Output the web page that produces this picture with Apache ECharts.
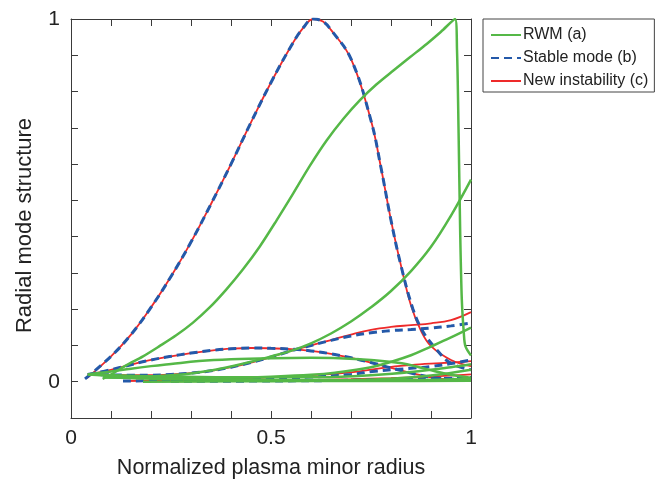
<!DOCTYPE html>
<html>
<head>
<meta charset="utf-8">
<script src="https://cdn.jsdelivr.net/npm/echarts@6/dist/echarts.min.js"></script>
<style>html,body{margin:0;padding:0;background:#fff}#c{width:657px;height:480px}</style>
</head>
<body>
<div id="c"></div>
<script>
// ---- Tick labels ----
const xLabelTicks = [0, 0.5, 1];
const yLabelTicks = [0, 1];

// ---- RWM (a) curves, green ----
const rwmPeak = [[0.079,0.008],[0.1,0.02],[0.138,0.045],[0.18,0.07],[0.221,0.098],[0.263,0.128],[0.305,0.163],[0.346,0.204],[0.388,0.254],[0.43,0.31],[0.472,0.373],[0.514,0.445],[0.556,0.52],[0.597,0.595],[0.639,0.665],[0.681,0.725],[0.723,0.777],[0.764,0.82],[0.806,0.858],[0.848,0.895],[0.89,0.932],[0.925,0.965],[0.96,1.0],[0.965,0.915],[0.969,0.685],[0.973,0.41],[0.977,0.227],[0.982,0.135],[0.986,0.098],[1.0,0.072]];
const rwmRiseHigh = [[0.08,0.012],[0.15,0.013],[0.2,0.015],[0.25,0.018],[0.3,0.023],[0.35,0.031],[0.4,0.042],[0.45,0.055],[0.5,0.07],[0.55,0.085],[0.6,0.106],[0.65,0.133],[0.7,0.166],[0.75,0.205],[0.8,0.25],[0.85,0.305],[0.9,0.372],[0.95,0.458],[1.0,0.557]];
const rwmRiseMid = [[0.08,0.012],[0.2,0.01],[0.3,0.01],[0.4,0.011],[0.5,0.014],[0.6,0.019],[0.66,0.025],[0.75,0.04],[0.8,0.055],[0.85,0.073],[0.9,0.097],[0.95,0.122],[1.0,0.149]];
const rwmHump = [[0.042,0.02],[0.1,0.028],[0.15,0.036],[0.2,0.043],[0.25,0.049],[0.32,0.057],[0.4,0.062],[0.5,0.065],[0.6,0.066],[0.67,0.065],[0.75,0.06],[0.827,0.051],[0.87,0.04],[0.91,0.029],[0.95,0.019],[1.0,0.011]];
const rwmRiseLow = [[0.042,0.02],[0.2,0.015],[0.4,0.012],[0.6,0.012],[0.66,0.013],[0.75,0.018],[0.85,0.027],[0.95,0.04],[1.0,0.048]];
const rwmDecay = [[0.042,0.02],[0.2,0.012],[0.4,0.006],[0.6,0.004],[0.8,0.004],[1.0,0.008]];
const rwmFlat = [[0.18,0.0],[0.4,0.001],[0.6,0.002],[0.8,0.002],[1.0,0.003]];
const rwmTail = [[0.08,0.012],[0.3,0.006],[0.5,0.004],[0.7,0.005],[0.8,0.008],[0.9,0.017],[1.0,0.033]];

// ---- New instability (c) curves, red ----
const newPeak = [[0.04,0.01],[0.1,0.07],[0.15,0.13],[0.2,0.205],[0.25,0.29],[0.3,0.385],[0.35,0.49],[0.4,0.6],[0.45,0.715],[0.5,0.825],[0.55,0.925],[0.58,0.975],[0.606,1.0],[0.63,0.993],[0.65,0.97],[0.7,0.89],[0.75,0.72],[0.775,0.59],[0.8,0.445],[0.825,0.32],[0.85,0.21],[0.875,0.14],[0.9,0.098],[0.95,0.06],[1.0,0.043]];
const newHump = [[0.042,0.02],[0.1,0.033],[0.15,0.047],[0.2,0.06],[0.25,0.07],[0.3,0.079],[0.35,0.086],[0.4,0.091],[0.45,0.093],[0.5,0.092],[0.55,0.09],[0.6,0.085],[0.65,0.077],[0.7,0.066],[0.75,0.053],[0.8,0.038],[0.85,0.024],[0.9,0.012],[0.95,0.006],[1.0,0.004]];
const newRise = [[0.042,0.02],[0.1,0.019],[0.15,0.018],[0.2,0.018],[0.25,0.02],[0.3,0.024],[0.35,0.03],[0.4,0.04],[0.45,0.053],[0.5,0.068],[0.55,0.085],[0.6,0.1],[0.65,0.115],[0.7,0.13],[0.75,0.143],[0.8,0.151],[0.85,0.156],[0.9,0.161],[0.95,0.17],[1.0,0.192]];
const newLow = [[0.13,0.002],[0.2,0.003],[0.3,0.005],[0.4,0.008],[0.5,0.012],[0.6,0.018],[0.7,0.026],[0.785,0.039],[0.85,0.046],[0.9,0.05],[0.95,0.053],[1.0,0.057]];
const newFlat = [[0.25,0.001],[0.4,0.002],[0.5,0.003],[0.6,0.005],[0.7,0.007],[0.8,0.01],[0.9,0.014],[1.0,0.02]];

// ---- Stable mode (b) curves, blue dashed ----
const stablePeak = [[0.035,0.008],[0.1,0.07],[0.15,0.13],[0.2,0.205],[0.25,0.29],[0.3,0.385],[0.35,0.49],[0.4,0.6],[0.45,0.715],[0.5,0.825],[0.55,0.925],[0.58,0.975],[0.606,1.0],[0.63,0.993],[0.65,0.97],[0.7,0.89],[0.75,0.72],[0.775,0.59],[0.8,0.445],[0.825,0.32],[0.855,0.2],[0.88,0.138],[0.91,0.094],[0.948,0.052],[1.0,0.033]];
const stableHump = [[0.042,0.02],[0.1,0.033],[0.15,0.047],[0.2,0.06],[0.25,0.07],[0.3,0.079],[0.35,0.086],[0.4,0.091],[0.45,0.093],[0.5,0.092],[0.55,0.09],[0.6,0.085],[0.65,0.077],[0.7,0.066],[0.75,0.053],[0.8,0.038],[0.85,0.024],[0.9,0.012],[0.95,0.007],[1.0,0.006]];
const stableRise = [[0.042,0.02],[0.1,0.019],[0.15,0.018],[0.2,0.018],[0.25,0.02],[0.3,0.024],[0.35,0.03],[0.4,0.04],[0.45,0.053],[0.5,0.068],[0.55,0.085],[0.6,0.1],[0.65,0.114],[0.7,0.126],[0.75,0.135],[0.8,0.141],[0.85,0.144],[0.9,0.148],[0.95,0.154],[1.0,0.162]];
const stableLow = [[0.13,0.002],[0.3,0.004],[0.5,0.008],[0.6,0.013],[0.7,0.02],[0.76,0.029],[0.85,0.037],[0.9,0.042],[0.95,0.05],[1.0,0.06]];
const stableFlat = [[0.25,0.001],[0.5,0.002],[0.7,0.004],[0.9,0.008],[1.0,0.012]];

const GREEN = '#55b847', RED = '#ee2a2a', BLUE = '#2459a9';
const FONT = 'Liberation Sans, Arial, Helvetica, sans-serif';
const AX = '#3a3a3a';

function mk(name, data, color, width, type, z, smooth) {
  return { name, type: 'line', data, symbol: 'none', showSymbol: false, smooth: smooth,
    clip: true, z,
    lineStyle: { color, width, type }, itemStyle: { color }, emphasis: { disabled: true } };
}
const series = [];
[newPeak, newHump, newRise, newLow, newFlat].forEach(d => series.push(mk('New instability (c)', d, RED, 1.8, 'solid', 2, 0.4)));
[stablePeak, stableHump, stableRise, stableLow, stableFlat].forEach(d => series.push(mk('Stable mode (b)', d, BLUE, 3, [8, 5], 3, 0.4)));
[rwmPeak, rwmRiseHigh, rwmRiseMid, rwmHump, rwmRiseLow, rwmDecay, rwmFlat, rwmTail].forEach((d, i) => series.push(mk('RWM (a)', d, GREEN, 2.5, 'solid', 4, i === 0 ? 0.3 : 0.4)));

const has = (arr, v) => arr.some(t => Math.abs(t - v) < 1e-9);
const fmt = arr => v => has(arr, v) ? String(+v.toFixed(2)) : '';

const baseAxis = (extra) => Object.assign({
  type: 'value',
  axisLine: { show: true, onZero: false, lineStyle: { color: AX, width: 1 } },
  axisTick: { show: true, inside: true, length: 7, lineStyle: { color: AX, width: 1 } },
  splitLine: { show: false },
}, extra);

const chart = echarts.init(document.getElementById('c'), null, { renderer: 'canvas' });
chart.setOption({
  animation: false,
  backgroundColor: '#fff',
  grid: { left: 71, top: 19, width: 400, height: 399, containLabel: false, outerBoundsMode: 'none' },
  legend: {
    orient: 'vertical', left: 483, top: 19,
    data: ['RWM (a)', 'Stable mode (b)', 'New instability (c)'],
    itemWidth: 30, itemHeight: 14, itemGap: 7,
    padding: [8, 6, 3, 7],
    borderColor: '#444', borderWidth: 1,
    itemStyle: { opacity: 0 },
    lineStyle: { width: 2 },
    textStyle: { fontSize: 16, lineHeight: 14, color: '#222', fontFamily: FONT, padding: [0, 0, 0, -3] },
    selectedMode: false
  },
  xAxis: [
    baseAxis({ min: 0, max: 1, interval: 0.1, position: 'bottom',
      axisLabel: { formatter: fmt(xLabelTicks), fontSize: 21, color: '#222', fontFamily: FONT, margin: 10 },
      name: 'Normalized plasma minor radius', nameLocation: 'middle', nameGap: 39,
      nameTextStyle: { fontSize: 21.5, color: '#222', fontFamily: FONT } }),
    baseAxis({ min: 0, max: 1, interval: 0.1, position: 'top', axisLabel: { show: false } })
  ],
  yAxis: [
    baseAxis({ min: -0.1, max: 1, interval: 0.1, position: 'left',
      axisLabel: { formatter: fmt(yLabelTicks), fontSize: 21, color: '#222', fontFamily: FONT, margin: 11 },
      name: 'Radial mode structure', nameLocation: 'middle', nameGap: 35,
      nameTextStyle: { fontSize: 22, color: '#222', fontFamily: FONT, padding: [0, 14, 0, 0] } }),
    baseAxis({ min: -0.1, max: 1, interval: 0.1, position: 'right', axisLabel: { show: false } })
  ],
  series
});
</script>
</body>
</html>
